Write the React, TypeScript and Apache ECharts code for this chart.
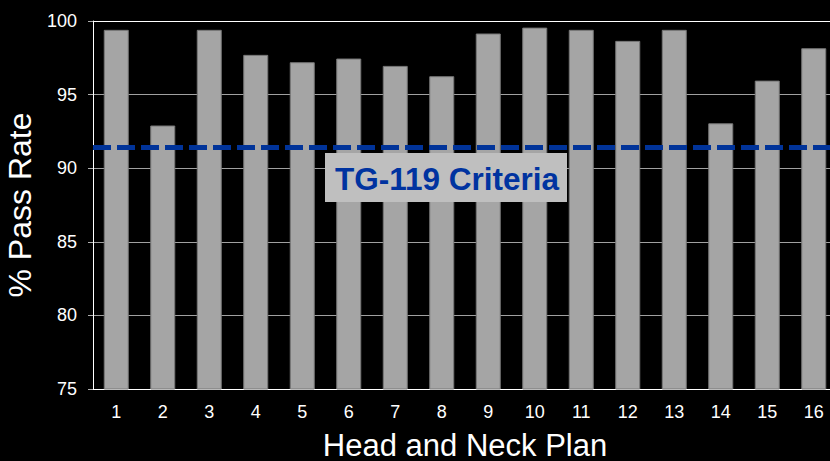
import React, { useEffect, useRef } from "react";
import * as echarts from "echarts";

// Plan numbers along the x axis
const plans: string[] = ["1", "2", "3", "4", "5", "6", "7", "8", "9", "10", "11", "12", "13", "14", "15", "16"];
// Gamma pass rate (%) per head and neck plan
const passRates: number[] = [99.4, 92.9, 99.4, 97.7, 97.2, 97.45, 96.95, 96.25, 99.15, 99.55, 99.4, 98.65, 99.4, 93.05, 95.95, 98.15];
// TG-119 acceptance threshold (%)
const criteria: number = 91.45;
const criteriaLabel = "TG-119 Criteria";

const FONT = '"Liberation Sans", Arial, Helvetica, sans-serif';

export default function App() {
  const ref = useRef<HTMLDivElement>(null);

  useEffect(() => {
    if (!ref.current) return;
    const chart = echarts.init(ref.current, null, { renderer: "svg" });
    chart.setOption({
      animation: false,
      backgroundColor: "#000",
      grid: {
        left: 93,
        top: 21,
        width: 744,
        height: 368,
        containLabel: false,
        outerBoundsMode: "none",
      },
      xAxis: {
        type: "category",
        data: plans,
        name: "Head and Neck Plan",
        nameLocation: "middle",
        nameGap: 41,
        nameTextStyle: { color: "#fff", fontSize: 31, lineHeight: 30, fontFamily: FONT },
        axisLine: { lineStyle: { color: "#fff", width: 1 } },
        axisTick: { show: false },
        axisLabel: { color: "#fff", fontSize: 18, fontFamily: FONT, margin: 14 },
        splitLine: { show: false },
      },
      yAxis: {
        type: "value",
        min: 75,
        max: 100,
        interval: 5,
        name: "% Pass Rate",
        nameLocation: "middle",
        nameRotate: 90,
        nameGap: 48,
        nameTextStyle: { color: "#fff", fontSize: 32, fontFamily: FONT },
        axisLine: { show: true, lineStyle: { color: "#fff", width: 1 } },
        axisTick: { show: true, length: 5, lineStyle: { color: "#b0b0b0" } },
        axisLabel: { color: "#fff", fontSize: 18, fontFamily: FONT, margin: 16 },
        splitLine: {
          show: true,
          lineStyle: { color: ["#fff", "#a0a0a0", "#a0a0a0", "#a0a0a0", "#a0a0a0", "#fff"], width: 1 },
        },
      },
      series: [
        {
          type: "bar",
          data: passRates,
          barWidth: 25,
          itemStyle: { color: "#a5a5a5", borderColor: "#777", borderWidth: 1 },
          markLine: {
            silent: true,
            symbol: "none",
            label: { show: false },
            lineStyle: { color: "#003399", width: 5, type: [18, 6] },
            data: [{ yAxis: criteria }],
            z: 5,
          },
        },
      ],
      graphic: [
        {
          type: "rect",
          z: 100,
          shape: { x: 325, y: 153, width: 242, height: 49 },
          style: { fill: "#bfbfbf" },
        },
        {
          type: "text",
          z: 101,
          style: {
            text: criteriaLabel,
            x: 447,
            y: 179,
            fill: "#0033a0",
            font: `bold 31.5px ${FONT}`,
            textAlign: "center",
            textVerticalAlign: "middle",
          },
        },
      ],
    });
    return () => chart.dispose();
  }, []);

  return (
    <div
      ref={ref}
      style={{ position: "fixed", left: 0, top: 0, width: 830, height: 461, background: "#000" }}
    />
  );
}
